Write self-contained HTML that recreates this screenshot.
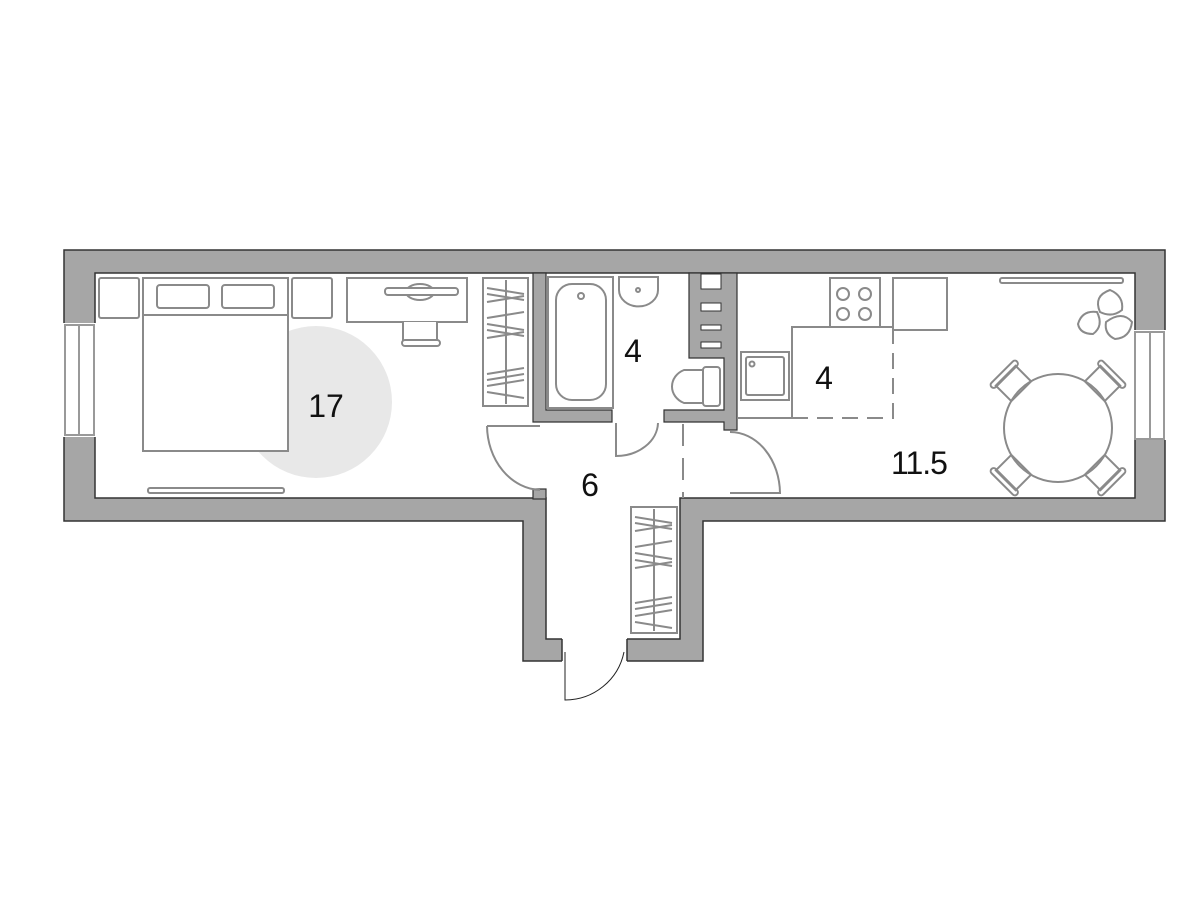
<!DOCTYPE html>
<html><head><meta charset="utf-8"><style>
html,body{margin:0;padding:0;background:#fff}
svg{display:block}
text{font-family:"Liberation Sans",sans-serif;fill:#111}
</style></head><body>
<svg width="1200" height="900" viewBox="0 0 1200 900" xmlns="http://www.w3.org/2000/svg">
<rect width="1200" height="900" fill="#fff"/>
<path d="M64,250 H1165 V521 H703 V661 H523 V521 H64 Z" fill="#a6a6a6" stroke="#333" stroke-width="1.5"/>
<path d="M95,273 H1135 V498 H680 V639 H546 V498 H95 Z" fill="#fff" stroke="#333" stroke-width="1.5"/>
<rect x="562" y="638" width="65" height="25" fill="#fff"/>
<line x1="562" y1="639" x2="562" y2="661" stroke="#333" stroke-width="1.5"/>
<line x1="627" y1="639" x2="627" y2="661" stroke="#333" stroke-width="1.5"/>
<path d="M565,652 V700 A60,60 0 0 0 624,652" fill="none" stroke="#222" stroke-width="1"/>
<rect x="63" y="323" width="33" height="114" fill="#fff"/>
<rect x="65" y="325" width="29" height="110" fill="none" stroke="#999" stroke-width="2"/>
<line x1="79" y1="325" x2="79" y2="435" stroke="#999" stroke-width="2"/>
<rect x="1134" y="330" width="32" height="110" fill="#fff"/>
<rect x="1135" y="332" width="29" height="107" fill="none" stroke="#999" stroke-width="2"/>
<line x1="1150" y1="332" x2="1150" y2="439" stroke="#999" stroke-width="2"/>
<g fill="#a6a6a6" stroke="#333" stroke-width="1.2">
<path d="M533,273 H546 V410 H612 V422 H533 Z"/>
<path d="M664,410 H724 V358 H689 V273 H737 V430 H724 V422 H664 Z"/>
<rect x="533" y="489" width="13" height="10"/>
</g>
<g fill="#fff" stroke="#333" stroke-width="1">
<rect x="701" y="274" width="20" height="15"/>
<rect x="701" y="303" width="20" height="8"/>
<rect x="701" y="325" width="20" height="5"/>
<rect x="701" y="342" width="20" height="6"/>
</g>
<circle cx="316" cy="402" r="76" fill="#e8e8e8"/>
<g fill="#fff" stroke="#8a8a8a" stroke-width="2">
<rect x="99" y="278" width="40" height="40" rx="2"/>
<rect x="292" y="278" width="40" height="40" rx="2"/>
<rect x="143" y="278" width="145" height="37"/>
<rect x="157" y="285" width="52" height="23" rx="3"/>
<rect x="222" y="285" width="52" height="23" rx="3"/>
<rect x="143" y="315" width="145" height="136"/>
<rect x="347" y="278" width="120" height="44"/>
<path d="M403,322 V340 Q405,345 420,345 Q436,345 437,340 V322" />
<rect x="402" y="340" width="38" height="6" rx="3"/>
<ellipse cx="420" cy="292" rx="14" ry="8"/>
<rect x="385" y="288" width="73" height="7" rx="3"/>
<rect x="148" y="488" width="136" height="5" rx="2"/>
<rect x="483" y="278" width="45" height="128"/>
<rect x="631" y="507" width="46" height="126"/>
<rect x="548" y="277" width="65" height="131"/>
<rect x="556" y="284" width="50" height="116" rx="16"/>
<circle cx="581" cy="296" r="3"/>
<path d="M619,277 H658 V290 A19,16 0 0 1 619,290 Z"/>
<circle cx="638" cy="290" r="2"/>
<path d="M703,370 H684 A20,18 0 0 0 684,403 H703 Z"/>
<rect x="703" y="367" width="17" height="39" rx="3"/>
<rect x="830" y="278" width="50" height="49"/>
<circle cx="843" cy="294" r="6"/><circle cx="865" cy="294" r="6"/>
<circle cx="843" cy="314" r="6"/><circle cx="865" cy="314" r="6"/>
<rect x="893" y="278" width="54" height="52"/>
<rect x="741" y="352" width="48" height="48"/>
<rect x="746" y="357" width="38" height="38" rx="2"/>
<circle cx="752" cy="364" r="2.5"/>
<rect x="1000" y="278" width="123" height="5" rx="2"/>
</g>
<g stroke="#8a8a8a" stroke-width="2" fill="none">
<line x1="506" y1="280" x2="506" y2="404"/>
<path d="M487,288 L524,294 M487,294 L524,300 M487,302 L524,296 M487,318 L524,312 M487,324 L524,330 M487,330 L524,336 M487,338 L524,332 M487,374 L524,368 M487,380 L524,374 M487,386 L524,380 M487,392 L524,398"/>
<line x1="654" y1="509" x2="654" y2="631"/>
<path d="M635,517 L672,523 M635,523 L672,529 M635,531 L672,525 M635,547 L672,541 M635,553 L672,559 M635,560 L672,566 M635,568 L672,562 M635,603 L672,597 M635,609 L672,603 M635,616 L672,610 M635,622 L672,628"/>
<path d="M737,418 H792 V327 H830"/>
<path d="M792,418 H893 V330" stroke-dasharray="16,9"/>
<path d="M880,327 H893"/>
<path d="M487,426 H540 M487,426 A55,65 0 0 0 540,490"/>
<path d="M616,423 V456 A42,34 0 0 0 658,423"/>
<path d="M730,493 H780 A50,62 0 0 0 730,432"/>
<line x1="683" y1="424" x2="683" y2="498" stroke-dasharray="22,12"/>
<circle cx="1058" cy="428" r="54"/>
<g transform="translate(1058,428)">
<g transform="rotate(-45)"><rect x="-14" y="-74" width="28" height="22"/><rect x="-18" y="-79" width="36" height="6" rx="3"/></g>
<g transform="rotate(45)"><rect x="-14" y="-74" width="28" height="22"/><rect x="-18" y="-79" width="36" height="6" rx="3"/></g>
<g transform="rotate(135)"><rect x="-14" y="-74" width="28" height="22"/><rect x="-18" y="-79" width="36" height="6" rx="3"/></g>
<g transform="rotate(-135)"><rect x="-14" y="-74" width="28" height="22"/><rect x="-18" y="-79" width="36" height="6" rx="3"/></g>
</g>
<path d="M1100,312 Q1093,296 1110,290 Q1124,296 1122,310 Q1112,318 1100,312 Z M1078,324 Q1082,310 1097,312 Q1104,326 1093,334 Q1080,334 1078,324 Z M1106,322 Q1122,310 1132,322 Q1130,338 1115,339 Q1104,334 1106,322 Z"/>
</g>
<text x="326" y="417" font-size="32" text-anchor="middle">17</text>
<text x="633" y="362" font-size="32" text-anchor="middle">4</text>
<text x="824" y="389" font-size="32" text-anchor="middle">4</text>
<text x="590" y="496" font-size="32" text-anchor="middle">6</text>
<text x="919" y="474" font-size="32" text-anchor="middle" letter-spacing="-1">11.5</text>
</svg>
</body></html>
